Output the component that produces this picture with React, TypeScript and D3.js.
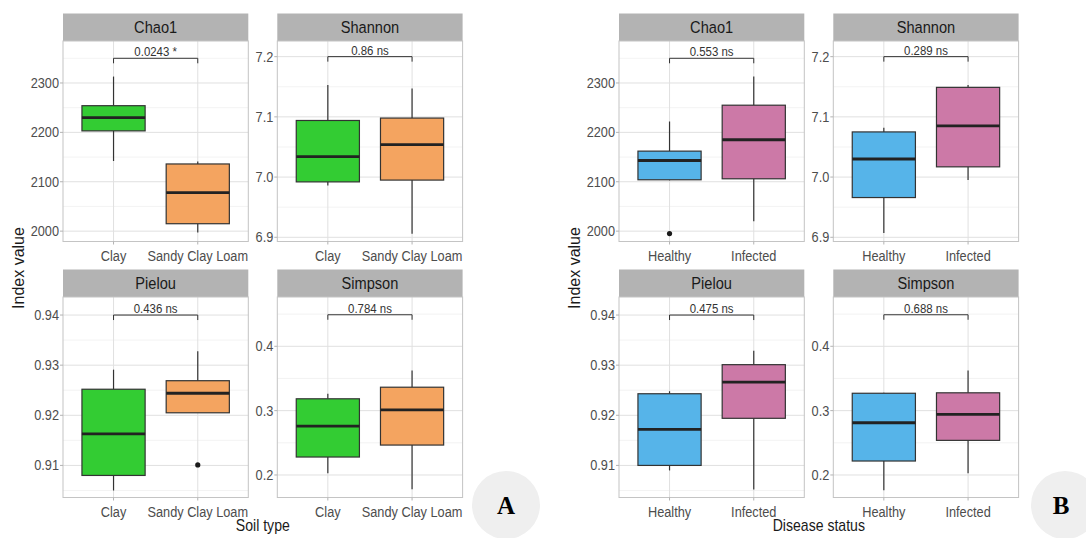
import React from "react";
import * as d3 from "d3";

// facet order: Chao1, Shannon (top row), Pielou, Simpson (bottom row)
const indexNames = ["Chao1", "Shannon", "Pielou", "Simpson"];
const yDomains = [
  [1979, 2385],
  [6.893, 7.226],
  [0.9036, 0.9436],
  [0.165, 0.4766],
];
const yTicks = [
  [2000, 2100, 2200, 2300],
  [6.9, 7.0, 7.1, 7.2],
  [0.91, 0.92, 0.93, 0.94],
  [0.2, 0.3, 0.4],
];
const yTickLabels = [
  ["2000", "2100", "2200", "2300"],
  ["6.9", "7.0", "7.1", "7.2"],
  ["0.91", "0.92", "0.93", "0.94"],
  ["0.2", "0.3", "0.4"],
];
const bracketValues = [2350, 7.2, 0.94, 0.449];

// box stats: [lower whisker, q1, median, q3, upper whisker]
const soilTypes = ["Clay", "Sandy Clay Loam"];
const soilChao1 = [[2142, 2203, 2230, 2254, 2313], [1997, 2015, 2078, 2136, 2141]];
const soilShannon = [[6.986, 6.992, 7.034, 7.094, 7.153], [6.906, 6.995, 7.054, 7.098, 7.147]];
const soilPielou = [[0.905, 0.908, 0.9163, 0.9252, 0.9291], [0.9205, 0.9205, 0.9244, 0.9269, 0.9328]];
const soilSimpson = [[0.2026, 0.2279, 0.276, 0.3184, 0.3262], [0.178, 0.2465, 0.3011, 0.3364, 0.3623]];
const soilOutliers = [[[], []], [[], []], [[], [0.9101]], [[], []]];
const soilPValues = ["0.0243 *", "0.86 ns", "0.436 ns", "0.784 ns"];

const diseaseStatus = ["Healthy", "Infected"];
const diseaseChao1 = [[2103, 2104, 2143, 2162, 2222], [2020, 2106, 2185, 2255, 2313]];
const diseaseShannon = [[6.907, 6.966, 7.03, 7.075, 7.082], [6.995, 7.017, 7.085, 7.149, 7.153]];
const diseasePielou = [[0.909, 0.91, 0.9172, 0.9243, 0.9248], [0.9052, 0.9194, 0.9266, 0.9301, 0.9329]];
const diseaseSimpson = [[0.1763, 0.2217, 0.2812, 0.327, 0.3277], [0.2026, 0.2538, 0.2941, 0.3277, 0.3623]];
const diseaseOutliers = [[[1995], []], [[], []], [[], []], [[], []]];
const diseasePValues = ["0.553 ns", "0.289 ns", "0.475 ns", "0.688 ns"];

const soilColors = ["#33cc33", "#f4a460"];
const diseaseColors = ["#56b4e9", "#cc79a7"];

const SX = 0.88;
const PANEL_W = 185.3;
const PANEL_H = 200.5;
const STRIP_H = 27.5;
const ROW_TOPS = [41, 297];

function T({ x, y, size, anchor = "middle", fill = "#1a1a1a", sx = SX, children }: any) {
  return (
    <text
      transform={`translate(${x},${y}) scale(${sx},1)`}
      textAnchor={anchor}
      fontSize={size}
      fill={fill}
      fontFamily="'Liberation Sans', Arial, sans-serif"
    >
      {children}
    </text>
  );
}

function Facet({ x0, y0, k, groups, boxes, outliers, colors, pval }: any) {
  const y = d3.scaleLinear().domain(yDomains[k]).range([y0 + PANEL_H, y0]);
  const x = d3.scalePoint().domain(groups).range([x0, x0 + PANEL_W]).padding(0.6);
  const step = x.step();
  const bw = step * 0.75;
  const ticks = yTicks[k];
  const half = (ticks[1] - ticks[0]) / 2;
  const minors = [ticks[0] - half, ...ticks.map((t) => t + half)].filter(
    (v) => v > yDomains[k][0] && v < yDomains[k][1]
  );
  const x1 = x(groups[0])!;
  const x2 = x(groups[1])!;
  const yb = y(bracketValues[k]);
  return (
    <g>
      <rect x={x0} y={y0 - STRIP_H} width={PANEL_W} height={STRIP_H} fill="#b3b3b3" />
      <T x={x0 + PANEL_W / 2} y={y0 - STRIP_H / 2 + 6} size={17} sx={0.86}>
        {indexNames[k]}
      </T>
      {minors.map((v: number) => (
        <line key={"m" + v} x1={x0} x2={x0 + PANEL_W} y1={y(v)} y2={y(v)} stroke="#eeeeee" strokeWidth={0.7} />
      ))}
      {ticks.map((v: number) => (
        <line key={"g" + v} x1={x0} x2={x0 + PANEL_W} y1={y(v)} y2={y(v)} stroke="#e0e0e0" strokeWidth={1} />
      ))}
      {groups.map((g: string) => (
        <line key={"v" + g} x1={x(g)} x2={x(g)} y1={y0} y2={y0 + PANEL_H} stroke="#e0e0e0" strokeWidth={1} />
      ))}
      <rect x={x0} y={y0} width={PANEL_W} height={PANEL_H} fill="none" stroke="#c4c4c4" strokeWidth={1} />
      {ticks.map((v: number, i: number) => (
        <g key={"t" + v}>
          <line x1={x0 - 3} x2={x0} y1={y(v)} y2={y(v)} stroke="#b3b3b3" />
          <T x={x0 - 4} y={y(v) + 5} size={14.5} anchor="end" fill="#4d4d4d">
            {yTickLabels[k][i]}
          </T>
        </g>
      ))}
      {groups.map((g: string) => (
        <g key={"xl" + g}>
          <line x1={x(g)} x2={x(g)} y1={y0 + PANEL_H} y2={y0 + PANEL_H + 3} stroke="#b3b3b3" />
          <T x={x(g)} y={y0 + PANEL_H + 19} size={14.5} fill="#4d4d4d">
            {g}
          </T>
        </g>
      ))}
      {groups.map((g: string, i: number) => {
        const [lo, q1, med, q3, hi] = boxes[i];
        const cx = x(g)!;
        return (
          <g key={"b" + g}>
            <line x1={cx} x2={cx} y1={y(hi)} y2={y(q3)} stroke="#333333" strokeWidth={1.2} />
            <line x1={cx} x2={cx} y1={y(q1)} y2={y(lo)} stroke="#333333" strokeWidth={1.2} />
            <rect
              x={cx - bw / 2}
              y={y(q3)}
              width={bw}
              height={y(q1) - y(q3)}
              fill={colors[i]}
              stroke="#333333"
              strokeWidth={1.2}
            />
            <line x1={cx - bw / 2} x2={cx + bw / 2} y1={y(med)} y2={y(med)} stroke="#222222" strokeWidth={2.8} />
            {outliers[i].map((o: number) => (
              <circle key={o} cx={cx} cy={y(o)} r={2.6} fill="#1a1a1a" />
            ))}
          </g>
        );
      })}
      <path d={`M${x1},${yb + 5}V${yb}H${x2}V${yb + 5}`} fill="none" stroke="#333333" strokeWidth={1} />
      <T x={(x1 + x2) / 2} y={yb - 2} size={13} fill="#333333">
        {pval}
      </T>
    </g>
  );
}

function Block({ cols, groups, data, outliers, colors, pvals, xTitle, yTitleX }: any) {
  return (
    <g>
      {data.map((boxes: any, k: number) => (
        <Facet
          key={k}
          x0={cols[k % 2]}
          y0={ROW_TOPS[Math.floor(k / 2)]}
          k={k}
          groups={groups}
          boxes={boxes}
          outliers={outliers[k]}
          colors={colors}
          pval={pvals[k]}
        />
      ))}
      <text
        transform={`translate(${yTitleX},268) rotate(-90)`}
        textAnchor="middle"
        fontSize={16}
        fill="#1a1a1a"
        fontFamily="'Liberation Sans', Arial, sans-serif"
      >
        Index value
      </text>
      <T x={(cols[0] + cols[1] + PANEL_W) / 2} y={531} size={16}>
        {xTitle}
      </T>
    </g>
  );
}

export default function App() {
  return (
    <svg
      width={1086}
      height={538}
      style={{ position: "absolute", left: 0, top: 0, background: "#ffffff" }}
    >
      <Block
        cols={[63, 277.3]}
        groups={soilTypes}
        data={[soilChao1, soilShannon, soilPielou, soilSimpson]}
        outliers={soilOutliers}
        colors={soilColors}
        pvals={soilPValues}
        xTitle="Soil type"
        yTitleX={24}
      />
      <Block
        cols={[619, 833.3]}
        groups={diseaseStatus}
        data={[diseaseChao1, diseaseShannon, diseasePielou, diseaseSimpson]}
        outliers={diseaseOutliers}
        colors={diseaseColors}
        pvals={diseasePValues}
        xTitle="Disease status"
        yTitleX={580}
      />
      <circle cx={506} cy={505} r={34} fill="#efefef" />
      <text x={506} y={514} textAnchor="middle" fontSize={25} fontWeight="bold" fontFamily="'Liberation Serif', 'Times New Roman', serif">
        A
      </text>
      <circle cx={1065} cy={505} r={34} fill="#efefef" />
      <text x={1061} y={514} textAnchor="middle" fontSize={25} fontWeight="bold" fontFamily="'Liberation Serif', 'Times New Roman', serif">
        B
      </text>
    </svg>
  );
}
